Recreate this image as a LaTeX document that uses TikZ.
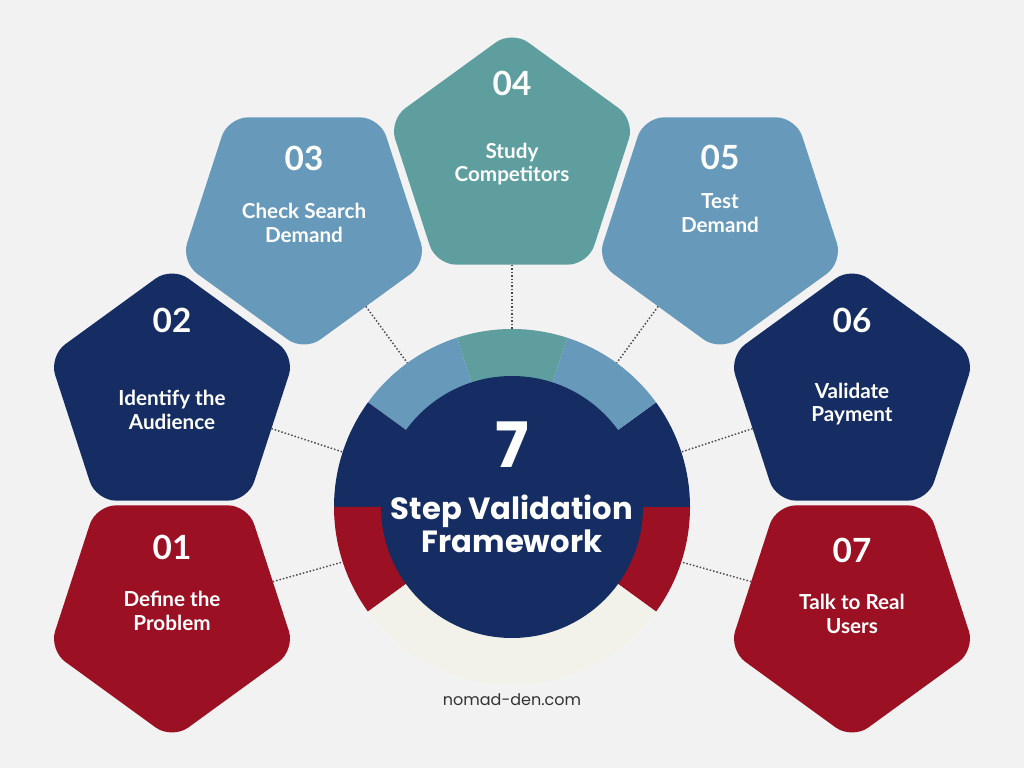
\documentclass[tikz,border=0pt]{standalone}
\usepackage{fontspec}
\setmainfont{Lato}
\newfontfamily\titlefont{Poppins}
\usetikzlibrary{calc,shapes.geometric}

\definecolor{stepred}{HTML}{9B1022}
\definecolor{stepnavy}{HTML}{152D62}
\definecolor{stepblue}{HTML}{6699BA}
\definecolor{stepteal}{HTML}{5E9E9F}
\definecolor{ringcream}{HTML}{F2F2EA}
\definecolor{pagebg}{HTML}{F2F2F2}
\definecolor{dotgray}{HTML}{4A4A4A}

\tikzset{
  pentup/.style={regular polygon, regular polygon sides=5, minimum size=194pt,
    inner sep=0pt, outer sep=0pt, rounded corners=15pt},
  pentdown/.style={pentup, shape border rotate=180},
  stepnum/.style={text=white, font=\bfseries\fontsize{25}{25}\selectfont},
  steplabel/.style={text=white, align=center, font=\bfseries\fontsize{15.5}{17.5}\selectfont},
  link/.style={draw=dotgray, line width=1.1pt, dash pattern=on 1.1pt off 1.5pt},
}

\begin{document}
\begin{tikzpicture}[x=0.75pt, y=0.75pt]

% Page
\fill[pagebg] (0,0) rectangle (1024,768);
\useasboundingbox (0,0) rectangle (1024,768);

% Hub of the ring
\coordinate (hub) at (512,261);

% Pentagons
\node[pentdown, fill=stepred]   (p1) at (172,158) {};
\node[pentup,   fill=stepnavy]  (p2) at (172,372) {};
\node[pentdown, fill=stepblue]  (p3) at (304,546) {};
\node[pentup,   fill=stepteal]  (p4) at (512,608) {};
\node[pentdown, fill=stepblue]  (p5) at (720,546) {};
\node[pentup,   fill=stepnavy]  (p6) at (852,372) {};
\node[pentdown, fill=stepred]   (p7) at (852,158) {};

% Ends of the dotted links on the outer ring
\foreach \i/\ang in {1/198,2/162,3/126,4/90,5/54,6/18,7/-18}
  \coordinate (r\i) at ($(hub)+(\ang:133.5pt)$);

% Dotted links
\draw[link] (p1) -- (r1);
\draw[link] (p2) -- (r2);
\draw[link] (p3) -- (r3);
\draw[link] (p4) -- (r4);
\draw[link] (p5) -- (r5);
\draw[link] (p6) -- (r6);
\draw[link] (p7) -- (r7);

% Ring segments
\foreach \a/\b/\col in {-36/0/stepred, 0/36/stepnavy, 36/72/stepblue,
    72/108/stepteal, 108/144/stepblue, 144/180/stepnavy,
    180/216/stepred, 216/324/ringcream}
  \fill[\col] (hub) -- ($(hub)+(\a:133.5pt)$)
    arc[start angle=\a, end angle=\b, radius=133.5pt] -- cycle;

% Inner disc
\fill[stepnavy] (hub) circle[radius=98.25pt];

% Centre title
\node[text=white, font=\titlefont\bfseries\fontsize{47}{47}\selectfont] (seven) at (512,323) {7};
\node[text=white, align=center, font=\titlefont\bfseries\fontsize{23}{25}\selectfont]
  (title) at (512,244) {Step Validation\\Framework};

% Step numbers
\node[stepnum] (n1) at (172,221) {01};
\node[stepnum] (n2) at (172,448) {02};
\node[stepnum] (n3) at (304,610) {03};
\node[stepnum] (n4) at (512,685) {04};
\node[stepnum] (n5) at (720,611) {05};
\node[stepnum] (n6) at (852,448) {06};
\node[stepnum] (n7) at (852,218) {07};

% Step labels
\node[steplabel] (t1) at (172,157) {Define the\\Problem};
\node[steplabel] (t2) at (172,358) {Identify the\\Audience};
\node[steplabel] (t3) at (304,545) {Check Search\\Demand};
\node[steplabel] (t4) at (512,604) {Study\\Competitors};
\node[steplabel] (t5) at (720,555) {Test\\Demand};
\node[steplabel] (t6) at (852,364) {Validate\\Payment};
\node[steplabel] (t7) at (852,154) {Talk to Real\\Users};

% Footer
\node[text=black!80, font=\titlefont\fontsize{12}{12}\selectfont] (site) at (512,68) {nomad-den.com};

\end{tikzpicture}
\end{document}
